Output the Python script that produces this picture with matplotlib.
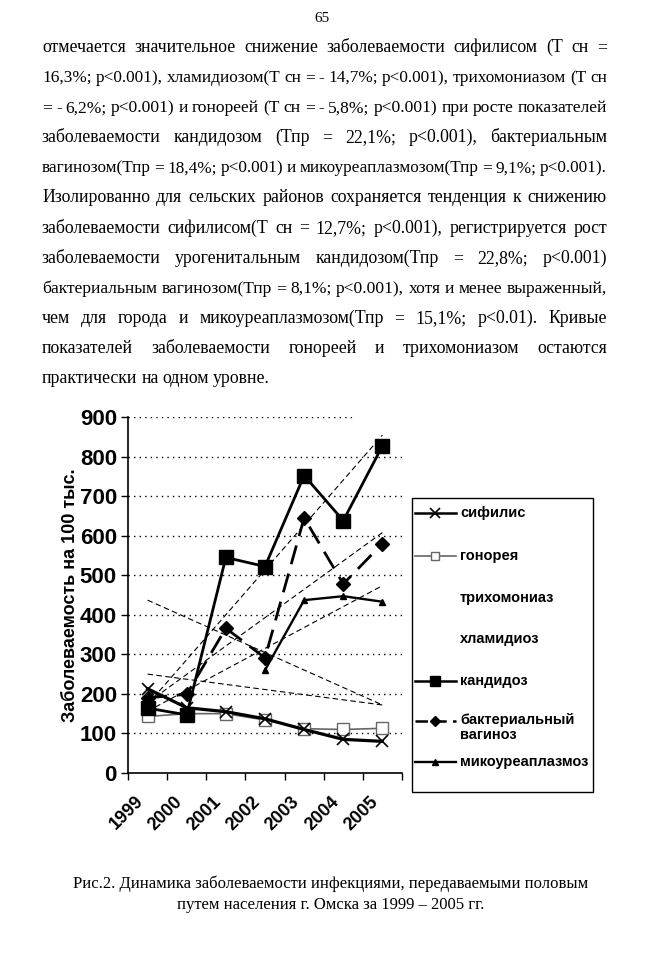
import matplotlib
matplotlib.use('Agg')
import matplotlib.pyplot as plt
from matplotlib.lines import Line2D
from matplotlib.patches import Rectangle
from matplotlib.transforms import ScaledTranslation
import numpy as np

W, H = 648, 960

years = ['1999', '2000', '2001', '2002', '2003', '2004', '2005']
syphilis = [213, 165, 155, 137, 110, 85, 80]
gonorrhea = [143, 150, 150, 134, 112, 110, 113]
candidiasis = [164, 147, 545, 522, 752, 638, 827]
vaginosis = [190, 199, 366, 291, 645, 478, 580]
mycoplasma = [np.nan, np.nan, np.nan, 260, 437, 447, 433]
# trend endpoints (1999, 2005) for series whose own lines are not shown
trich_trend = [250, 172]
chlam_trend = [437, 172]

yticks = [0, 100, 200, 300, 400, 500, 600, 700, 800, 900]

page_lines = [
    'отмечается значительное снижение заболеваемости сифилисом (Т сн =',
    '16,3%; р<0.001), хламидиозом(Т сн = - 14,7%; р<0.001), трихомониазом (Т сн',
    '= - 6,2%; р<0.001) и гонореей (Т сн = - 5,8%; р<0.001) при росте показателей',
    'заболеваемости кандидозом (Тпр = 22,1%; р<0.001), бактериальным',
    'вагинозом(Тпр = 18,4%; р<0.001) и микоуреаплазмозом(Тпр = 9,1%; р<0.001).',
    'Изолированно для сельских районов сохраняется тенденция к снижению',
    'заболеваемости сифилисом(Т сн = 12,7%; р<0.001), регистрируется рост',
    'заболеваемости урогенитальным кандидозом(Тпр = 22,8%; р<0.001)',
    'бактериальным вагинозом(Тпр = 8,1%; р<0.001), хотя и менее выраженный,',
    'чем для города и микоуреаплазмозом(Тпр = 15,1%; р<0.01). Кривые',
    'показателей заболеваемости гонореей и трихомониазом остаются',
    'практически на одном уровне.',
]
caption = ['Рис.2. Динамика заболеваемости инфекциями, передаваемыми половым',
           'путем населения г. Омска за 1999 – 2005 гг.']

fig = plt.figure(figsize=(W / 100, H / 100), dpi=100)
renderer = fig.canvas.get_renderer()
serif = 'Liberation Serif'
sans = 'Liberation Sans'


def px(x, y):
    return x / W, 1 - y / H


# page text, justified like the scan
fig.text(*px(322, 18), '65', ha='center', va='center', fontsize=11, family=serif)
x0, x1 = 42, 607
for i, line in enumerate(page_lines):
    words = line.split()
    base = 52 + 30.1 * i
    size = 12.8
    while True:
        ts = [fig.text(*px(0, base), w, fontsize=size, family=serif, va='baseline') for w in words]
        ws = [t.get_window_extent(renderer).width for t in ts]
        if sum(ws) + 3.5 * (len(words) - 1) <= x1 - x0 or size < 10:
            break
        for t in ts:
            t.remove()
        size -= 0.2
    if i == len(page_lines) - 1:
        gap = 4
    else:
        gap = (x1 - x0 - sum(ws)) / (len(words) - 1)
    x = x0
    for t, w in zip(ts, ws):
        t.set_x(x / W)
        x += w + gap

for i, line in enumerate(caption):
    fig.text(*px(331, 884 + 21 * i), line, ha='center', va='center', fontsize=12, family=serif)

# chart
ax = fig.add_axes([128 / W, 1 - 773 / H, 274 / W, 356 / H])
xi = np.arange(len(years))

for v in yticks[1:]:
    ax.axhline(v, xmin=0, xmax=(1 if v < 900 else 0.83), color='black',
               lw=1.0, linestyle=(0, (1, 3)), zorder=0)

# trend lines
tx = np.array([0, len(years) - 1])
for ser in [candidiasis, vaginosis, mycoplasma]:
    arr = np.array(ser, dtype=float)
    m = ~np.isnan(arr)
    k, b = np.polyfit(xi[m], arr[m], 1)
    ax.plot(tx, k * tx + b, color='black', lw=0.8, linestyle=(0, (5, 3)), zorder=1)
for tr in [trich_trend, chlam_trend]:
    ax.plot(tx, tr, color='black', lw=0.8, linestyle=(0, (5, 3)), zorder=1)

gon_style = dict(color='#666666', lw=1.2, marker='s', mfc='white', mec='#666666', mew=1.0)
syph_style = dict(color='black', lw=2.3, marker='x', mew=1.2)
cand_style = dict(color='black', lw=2.0, marker='s')
vag_style = dict(color='black', lw=2.0, marker='D', linestyle=(0, (7, 3.5)))
myco_style = dict(color='black', lw=1.7, marker='^')

ax.plot(xi, gonorrhea, ms=9, zorder=2, **gon_style)
ax.plot(xi, syphilis, ms=9, zorder=3, **syph_style)
ax.plot(xi, candidiasis, ms=10, zorder=4, **cand_style)
ax.plot(xi, vaginosis, ms=7, zorder=4, **vag_style)
ax.plot(xi, mycoplasma, ms=5, zorder=4, **myco_style)

ax.set_xlim(-0.5, len(years) - 0.5)
ax.set_ylim(0, 900)
ax.set_yticks(yticks)
ax.set_yticklabels([str(v) for v in yticks], fontsize=16, fontweight='bold', family=sans)
ax.set_xticks(xi)
ax.set_xticklabels([])
ax.set_xticks(np.arange(-0.5, len(years)), minor=True)
ax.tick_params(axis='x', which='major', length=0)
ax.tick_params(axis='x', which='minor', length=5, width=1.0, direction='out')
ax.tick_params(axis='y', length=5, width=1.0, direction='out', pad=3)

# rotated year labels, anchored under each category
shift = ScaledTranslation(-13 / 100, -20 / 100, fig.dpi_scale_trans)
for i, yr in enumerate(years):
    ax.text(i, 0, yr, transform=ax.get_xaxis_transform() + shift, rotation=45,
            rotation_mode='anchor', ha='right', va='top', fontsize=13,
            fontweight='bold', family=sans, clip_on=False)

for s in ['top', 'right']:
    ax.spines[s].set_visible(False)
for s in ['left', 'bottom']:
    ax.spines[s].set_linewidth(1.2)
ax.set_ylabel('Заболеваемость на 100 тыс.', fontsize=13, fontweight='bold', family=sans)
ax.yaxis.set_label_coords(-0.178, 0.5)

# legend box drawn by hand to follow the scan's spacing
lx0, ly0, lx1, ly1 = 412, 498, 593, 792
fig.add_artist(Rectangle(px(lx0, ly1), (lx1 - lx0) / W, (ly1 - ly0) / H,
                         transform=fig.transFigure, fill=False, ec='black', lw=1.0))
legend_rows = [
    ('сифилис', syph_style, 7, 513),
    ('гонорея', gon_style, 6, 556),
    ('трихомониаз', None, 0, 598),
    ('хламидиоз', None, 0, 639),
    ('кандидоз', cand_style, 7, 681),
    ('бактериальный\nвагиноз', vag_style, 5, 721),
    ('микоуреаплазмоз', myco_style, 4, 762),
]
for label, style, ms, yc in legend_rows:
    if style is not None:
        st = dict(style)
        if style is vag_style:
            st['linestyle'] = (0, (5, 2.5))
        st['lw'] = min(st['lw'], 1.8)
        hx = [415 / W, 435 / W, 456 / W]
        fig.add_artist(Line2D(hx, [1 - yc / H] * 3, transform=fig.transFigure,
                              ms=ms, markevery=[1], **st))
    if '\n' in label:
        fig.text(*px(460, yc), label, ha='left', va='top', fontsize=10.5,
                 fontweight='bold', family=sans, linespacing=1.05,
                 transform=fig.transFigure + ScaledTranslation(0, 8 / 100, fig.dpi_scale_trans))
    else:
        fig.text(*px(460, yc), label, ha='left', va='center', fontsize=10.5,
                 fontweight='bold', family=sans)

fig.savefig('out.png', dpi=100)
